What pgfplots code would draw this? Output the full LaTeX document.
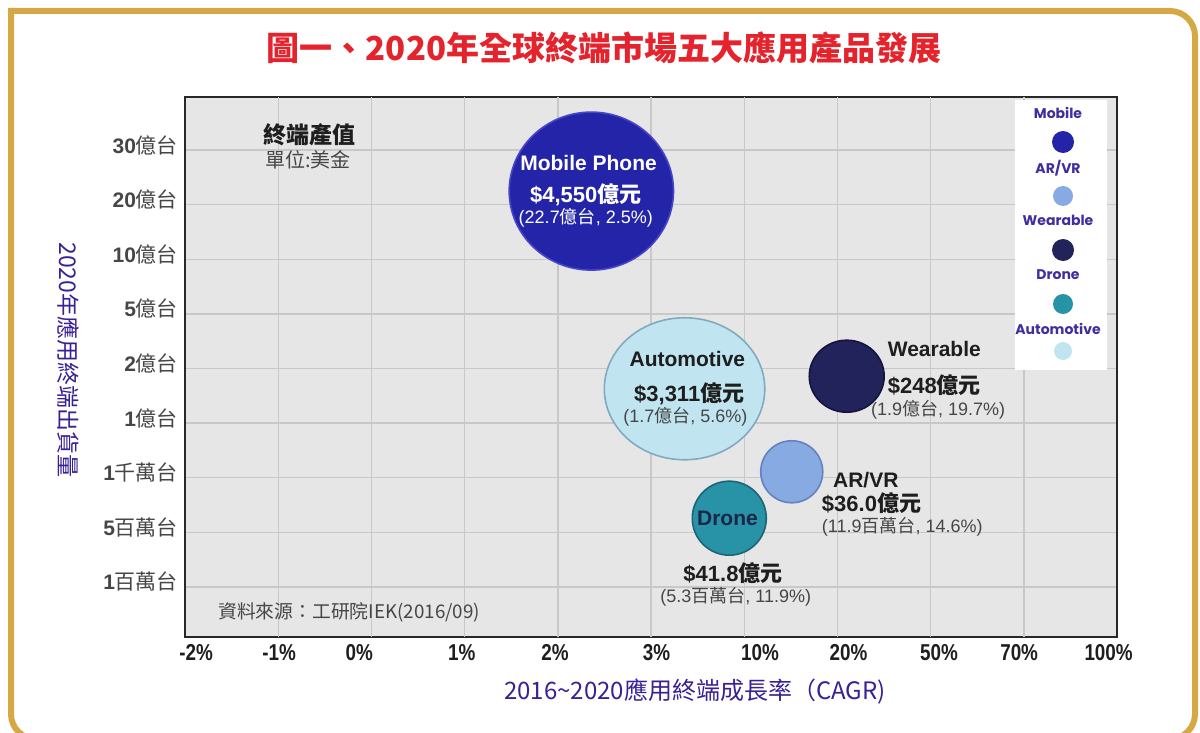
\documentclass[border=0pt]{standalone}
\usepackage{fontspec}
\setmainfont{Liberation Sans}
\newfontfamily\cjk{Noto Sans CJK TC}
\newfontfamily\narrow[FakeStretch=0.82]{Liberation Sans}
\newfontfamily\legfont{Poppins}
\usepackage{pgfplots}
\pgfplotsset{compat=1.18}

\definecolor{gold}{RGB}{213,168,68}
\definecolor{titlered}{RGB}{228,35,45}
\definecolor{purp}{RGB}{58,32,148}
\definecolor{legpurp}{RGB}{62,46,158}
\definecolor{plotbg}{RGB}{230,230,230}
\definecolor{gridgray}{RGB}{200,200,200}
\definecolor{axisdark}{RGB}{40,40,40}
\definecolor{txtdark}{RGB}{30,30,30}
\definecolor{txtgray}{RGB}{70,70,70}
\definecolor{cMobile}{RGB}{36,36,168}
\definecolor{cMobileE}{RGB}{70,70,200}
\definecolor{cAuto}{RGB}{192,229,241}
\definecolor{cAutoE}{RGB}{130,170,190}
\definecolor{cWear}{RGB}{35,35,92}
\definecolor{cWearE}{RGB}{20,20,60}
\definecolor{cAR}{RGB}{136,170,226}
\definecolor{cARE}{RGB}{100,130,190}
\definecolor{cDrone}{RGB}{40,146,166}
\definecolor{cDroneE}{RGB}{28,100,120}
\definecolor{droneTxt}{RGB}{28,38,72}

\newcommand\fBig{\fontsize{10.5}{12}\selectfont}
\newcommand\fMid{\fontsize{11}{12}\selectfont}
\newcommand\fSm{\fontsize{9}{10}\selectfont}

\begin{document}
\begin{tikzpicture}
\useasboundingbox (0,0) rectangle (600pt,366.5pt);
\begin{scope}
\clip (0,0) rectangle (600pt,366.5pt);
\draw[gold, line width=3pt, line join=miter]
  (5.5pt,180pt) -- (5.5pt,361pt) -- (585pt,361pt)
  arc[start angle=90, end angle=0, radius=12.5pt]
  -- (597.5pt,9.5pt) arc[start angle=0, end angle=-90, radius=12.5pt]
  -- (18pt,-3pt) arc[start angle=270, end angle=180, radius=12.5pt] -- cycle;
\end{scope}

\node[text=titlered, font=\cjk\bfseries\fontsize{16.5}{18}\selectfont, inner sep=0pt] at (302pt,342.5pt) {圖一、2020年全球終端市場五大應用產品發展};

\begin{axis}[
  clip marker paths=true,
  at={(92.5pt,48pt)}, anchor=south west, scale only axis,
  width=466pt, height=270pt,
  xmin=0, xmax=10, ymin=-0.916, ymax=8.974,
  axis background/.style={fill=plotbg},
  axis line style={draw=axisdark, line width=1.4pt},
  major tick length=0pt,
  xtick={0.12,1.01,1.87,2.97,3.97,5.06,6.17,7.12,8.09,8.95,9.91},
  xticklabels={-2\%,-1\%,0\%,1\%,2\%,3\%,10\%,20\%,50\%,70\%,100\%},
  extra x ticks={1,2,3,4,5,6,7,8,9},
  extra x tick labels={},
  extra x tick style={grid=major, major tick length=0pt},
  ytick={0,1,2,3,4,5,6,7,8},
  yticklabels={{\bfseries 1}{\cjk 百萬台},{\bfseries 5}{\cjk 百萬台},{\bfseries 1}{\cjk 千萬台},{\bfseries 1}{\cjk 億台},{\bfseries 2}{\cjk 億台},{\bfseries 5}{\cjk 億台},{\bfseries 10}{\cjk 億台},{\bfseries 20}{\cjk 億台},{\bfseries 30}{\cjk 億台}},
  ymajorgrids,
  grid style={draw=gridgray, line width=0.7pt},
  xticklabel style={font=\narrow\bfseries\fontsize{11.5}{12}\selectfont, text=txtdark},
  yticklabel style={font=\fontsize{10.5}{12}\selectfont, text=txtgray, yshift=2.5pt},
  legend style={at={(rel axis cs:0.8906,0.9944)}, anchor=north west, fill=white, draw=none,
    inner sep=0pt, outer sep=0pt, row sep=0pt, column sep=0pt, nodes={inner sep=0pt}},
]

\addplot[only marks, mark=*, mark size=39.5pt,
  mark options={fill=cMobile, draw=cMobileE, line width=0.8pt, xscale=1.04},
  legend image code/.code={
    \path[draw=none, fill=none] (0pt,-13.5pt) rectangle (45pt,13.5pt);
    \node[font=\legfont\bfseries\fontsize{7}{8}\selectfont, text=legpurp, inner sep=0pt, draw=none] at (21.5pt,6.5pt) {Mobile};
    \fill[cMobile, draw=none] (24pt,-7.5pt) circle (5.5pt);
  }] coordinates {(4.36,7.25)};
\addlegendentry{}

\addplot[only marks, mark=*, mark size=15.5pt,
  mark options={fill=cAR, draw=cARE, line width=0.8pt},
  legend image code/.code={
    \path[draw=none, fill=none] (0pt,-13.5pt) rectangle (45pt,13.5pt);
    \node[font=\legfont\bfseries\fontsize{7}{8}\selectfont, text=legpurp, inner sep=0pt, draw=none] at (21.5pt,6.5pt) {AR/VR};
    \fill[cAR, draw=none] (24pt,-7.5pt) circle (5pt);
  }] coordinates {(6.51,2.11)};
\addlegendentry{}

\addplot[only marks, mark=*, mark size=18pt,
  mark options={fill=cWear, draw=cWearE, line width=0.8pt, xscale=1.04},
  legend image code/.code={
    \path[draw=none, fill=none] (0pt,-13.5pt) rectangle (45pt,13.5pt);
    \node[font=\legfont\bfseries\fontsize{7}{8}\selectfont, text=legpurp, inner sep=0pt, draw=none] at (21.5pt,6.5pt) {Wearable};
    \fill[cWear, draw=none] (24pt,-7.5pt) circle (5.5pt);
  }] coordinates {(7.10,3.86)};
\addlegendentry{}

\addplot[only marks, mark=*, mark size=18.5pt,
  mark options={fill=cDrone, draw=cDroneE, line width=0.8pt},
  legend image code/.code={
    \path[draw=none, fill=none] (0pt,-13.5pt) rectangle (45pt,13.5pt);
    \node[font=\legfont\bfseries\fontsize{7}{8}\selectfont, text=legpurp, inner sep=0pt, draw=none] at (21.5pt,6.5pt) {Drone};
    \fill[cDrone, draw=none] (24pt,-7.5pt) circle (5pt);
  }] coordinates {(5.84,1.26)};
\addlegendentry{}

\addplot[only marks, mark=*, mark size=35.5pt,
  mark options={fill=cAuto, draw=cAutoE, line width=0.8pt, xscale=1.13},
  legend image code/.code={
    \path[draw=none, fill=none] (0pt,-13.5pt) rectangle (45pt,13.5pt);
    \node[font=\legfont\bfseries\fontsize{7}{8}\selectfont, text=legpurp, inner sep=0pt, draw=none] at (21.5pt,6.5pt) {Automotive};
    \fill[cAuto, draw=none] (24pt,-4pt) circle (4.5pt);
  }] coordinates {(5.36,3.63)};
\addlegendentry{}

% Mobile texts
\node[text=white, font=\fBig\bfseries] at (axis cs:4.33,7.77) {Mobile Phone};
\node[text=white, font=\fMid\bfseries] at (axis cs:4.30,7.18) {\$4,550{\cjk 億元}};
\node[text=white, font=\fSm] at (axis cs:4.30,6.76) {(22.7{\cjk 億台}, 2.5\%)};
% Automotive texts
\node[text=txtdark, font=\fBig\bfseries] at (axis cs:5.39,4.18) {Automotive};
\node[text=txtdark, font=\fMid\bfseries] at (axis cs:5.41,3.53) {\$3,311{\cjk 億元}};
\node[text=txtgray, font=\fSm] at (axis cs:5.37,3.11) {(1.7{\cjk 億台}, 5.6\%)};
% Wearable texts
\node[text=txtdark, font=\fBig\bfseries] at (axis cs:8.04,4.36) {Wearable};
\node[text=txtdark, font=\fMid\bfseries] at (axis cs:8.04,3.70) {\$248{\cjk 億元}};
\node[text=txtgray, font=\fSm] at (axis cs:8.08,3.24) {(1.9{\cjk 億台}, 19.7\%)};
% AR/VR texts
\node[text=txtdark, font=\fBig\bfseries, anchor=west, inner sep=0pt] at (axis cs:6.95,1.96) {AR/VR};
\node[text=txtdark, font=\fMid\bfseries, anchor=west, inner sep=0pt] at (axis cs:6.83,1.54) {\$36.0{\cjk 億元}};
\node[text=txtgray, font=\fSm, anchor=west, inner sep=0pt] at (axis cs:6.83,1.10) {(11.9{\cjk 百萬台}, 14.6\%)};
% Drone texts
\node[text=droneTxt, font=\fBig\bfseries] at (axis cs:5.82,1.26) {Drone};
\node[text=txtdark, font=\fMid\bfseries] at (axis cs:5.88,0.26) {\$41.8{\cjk 億元}};
\node[text=txtgray, font=\fSm] at (axis cs:5.91,-0.18) {(5.3{\cjk 百萬台}, 11.9\%)};
% unit note
\node[text=txtdark, font=\cjk\bfseries\fontsize{11.5}{12}\selectfont] at (axis cs:1.34,8.28) {終端產值};
\node[text=txtgray, font=\cjk\fontsize{10}{12}\selectfont] at (axis cs:1.32,7.82) {單位:美金};
% source
\node[text=txtgray, font=\cjk\fontsize{9.4}{11}\selectfont, anchor=west, inner sep=0pt] at (axis cs:0.354,-0.46) {資料來源：工研院IEK(2016/09)};
\end{axis}

\node[text=purp, font=\cjk\fontsize{12}{14}\selectfont, inner sep=0pt] at (347.5pt,20.5pt) {2016\textasciitilde2020應用終端成長率（CAGR)};
\node[text=purp, font=\cjk\fontsize{11.5}{13}\selectfont, inner sep=0pt, rotate=-90] at (34pt,186.5pt) {2020年應用終端出貨量};
\end{tikzpicture}
\end{document}
